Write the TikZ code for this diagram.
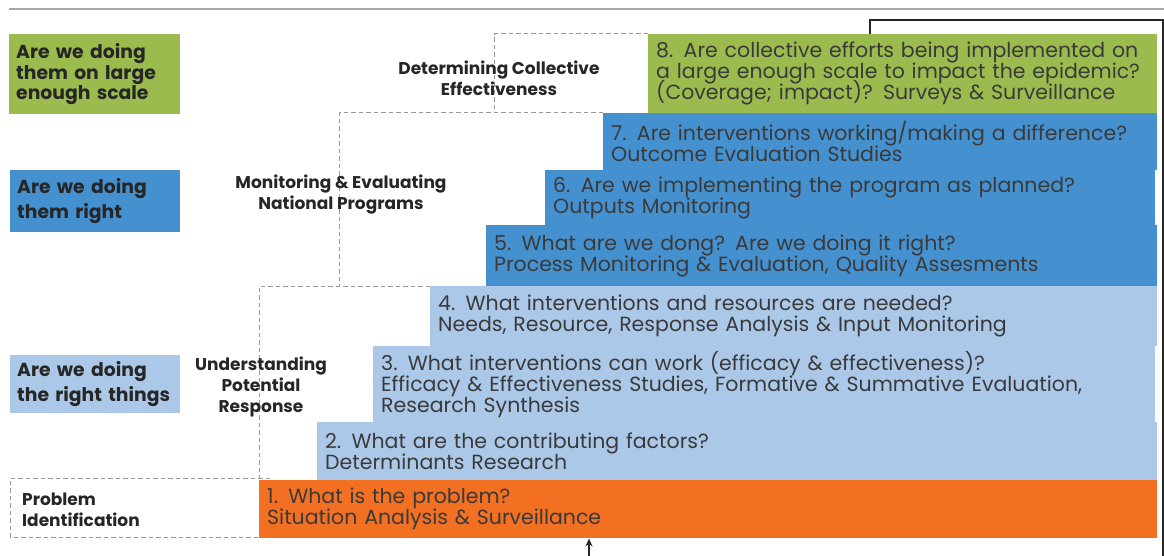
\documentclass[tikz,border=0pt]{standalone}
\usepackage{fontspec}
\setmainfont{Poppins}
\usepackage{tikz}
\usetikzlibrary{arrows.meta}
\definecolor{stepgreen}{HTML}{9BBB4F}
\definecolor{stepblue}{HTML}{4591CF}
\definecolor{steplight}{HTML}{ACC8E8}
\definecolor{steporange}{HTML}{F37022}
\definecolor{steptext}{HTML}{3A3A3A}
\definecolor{guidegray}{HTML}{9A9A9A}
\newcommand{\tightlines}{\lineskiplimit -20pt\relax}
\newcommand{\qbox}[7]{ \node[qbox, fill=#2, text width=#3, minimum height=#4] (#1) at ( #5 , #6 ) {#7};}
\tikzset{
  qbox/.style={anchor=north west, inner xsep=8pt, inner ysep=0pt, align=left,
    text=steptext, font=\fontsize{20.5}{21}\selectfont\tightlines},
  askbox/.style={anchor=north west, inner xsep=7pt, inner ysep=0pt, align=left,
    text=black!85, font=\bfseries\fontsize{18.8}{25}\selectfont\tightlines},
  phase/.style={align=center, inner sep=0pt, text=black!85,
    font=\bfseries\fontsize{17}{21}\selectfont\tightlines},
  guide/.style={draw=guidegray, line width=1pt, dash pattern=on 4.5pt off 3pt},
  feedback/.style={draw=black!85, line width=1.8pt}
}

\begin{document}
\begin{tikzpicture}[x=1pt, y=-1pt]
        \useasboundingbox (0,0) rectangle (1164,556);
        \draw[gray!70, line width=1.2pt] (9,9) -- (1164,9);

        % guides
        \draw[guide] (648,34) -- (494,34) -- (494,113);
        \draw[guide] (603,113) -- (339,113) -- (339,286);
        \draw[guide] (430,286) -- (259,286) -- (259,478);
        \draw[guide] (270,478) -- (10,478) -- (10,537) -- (270,537);

        % left questions
        \node[askbox, fill=stepgreen, text width=157pt, minimum height=80pt,
          font=\bfseries\fontsize{18.8}{20.5}\selectfont\tightlines] (askscale) at (9,34)
          {Are we doing\\them on large\\enough scale};
        \node[askbox, fill=stepblue, text width=156pt, minimum height=62pt] (askright) at (10,170)
          {Are we doing\\them right};
        \node[askbox, fill=steplight, text width=156pt, minimum height=58pt] (askthings) at (10,355)
          {Are we doing\\the right things};

        % phases
        \node[phase] (phcollect) at (499,78) {Determining Collective\\Effectiveness};
        \node[phase] (phnational) at (341,195) {Monitoring \& Evaluating\\National Programs};
        \node[phase] (phresponse) at (261,387) {Understanding\\Potential\\Response};
        \node[phase, anchor=west, align=left] (phproblem) at (22,510) {Problem\\Identification};

        % steps
        \qbox{q8}{stepgreen}{493pt}{79pt}{648}{34}{8. Are collective efforts being implemented on\\a large enough scale to impact the epidemic?\\(Coverage; impact)? Surveys \& Surveillance}
        \qbox{q7}{stepblue}{538pt}{57pt}{603}{113}{7. Are interventions working/making a difference?\\Outcome Evaluation Studies}
        \qbox{q6}{stepblue}{594pt}{55pt}{545}{170}{6. Are we implementing the program as planned?\\Outputs Monitoring}
        \qbox{q5}{stepblue}{655pt}{61pt}{486}{225}{5. What are we dong? Are we doing it right?\\Process Monitoring \& Evaluation, Quality Assesments}
        \qbox{q4}{steplight}{711pt}{60pt}{430}{286}{4. What interventions and resources are needed?\\Needs, Resource, Response Analysis \& Input Monitoring}
        \qbox{q3}{steplight}{766pt}{76pt}{373}{346}{3. What interventions can work (efficacy \& effectiveness)?\\Efficacy \& Effectiveness Studies, Formative \& Summative Evaluation,\\Research Synthesis}
        \qbox{q2}{steplight}{824pt}{58pt}{317}{422}{2. What are the contributing factors?\\Determinants Research}
        \qbox{q1}{steporange}{882pt}{58pt}{259}{480}{1. What is the problem?\\Situation Analysis \& Surveillance}

        % feedback loop
        \coordinate (fbtop) at (870,20);
        \coordinate (fbcorner) at (1163,20);
        \coordinate (fbend) at (1163,556);
        \coordinate (fbin) at (589,556);
        \draw[feedback] (q8.north -| fbtop) -- (fbtop) -- (fbcorner) -- (fbend);
        \draw[feedback, -{Stealth[length=8pt, width=7pt]}] (fbin) -- (q1.south -| fbin);
    \end{tikzpicture}
\end{document}
